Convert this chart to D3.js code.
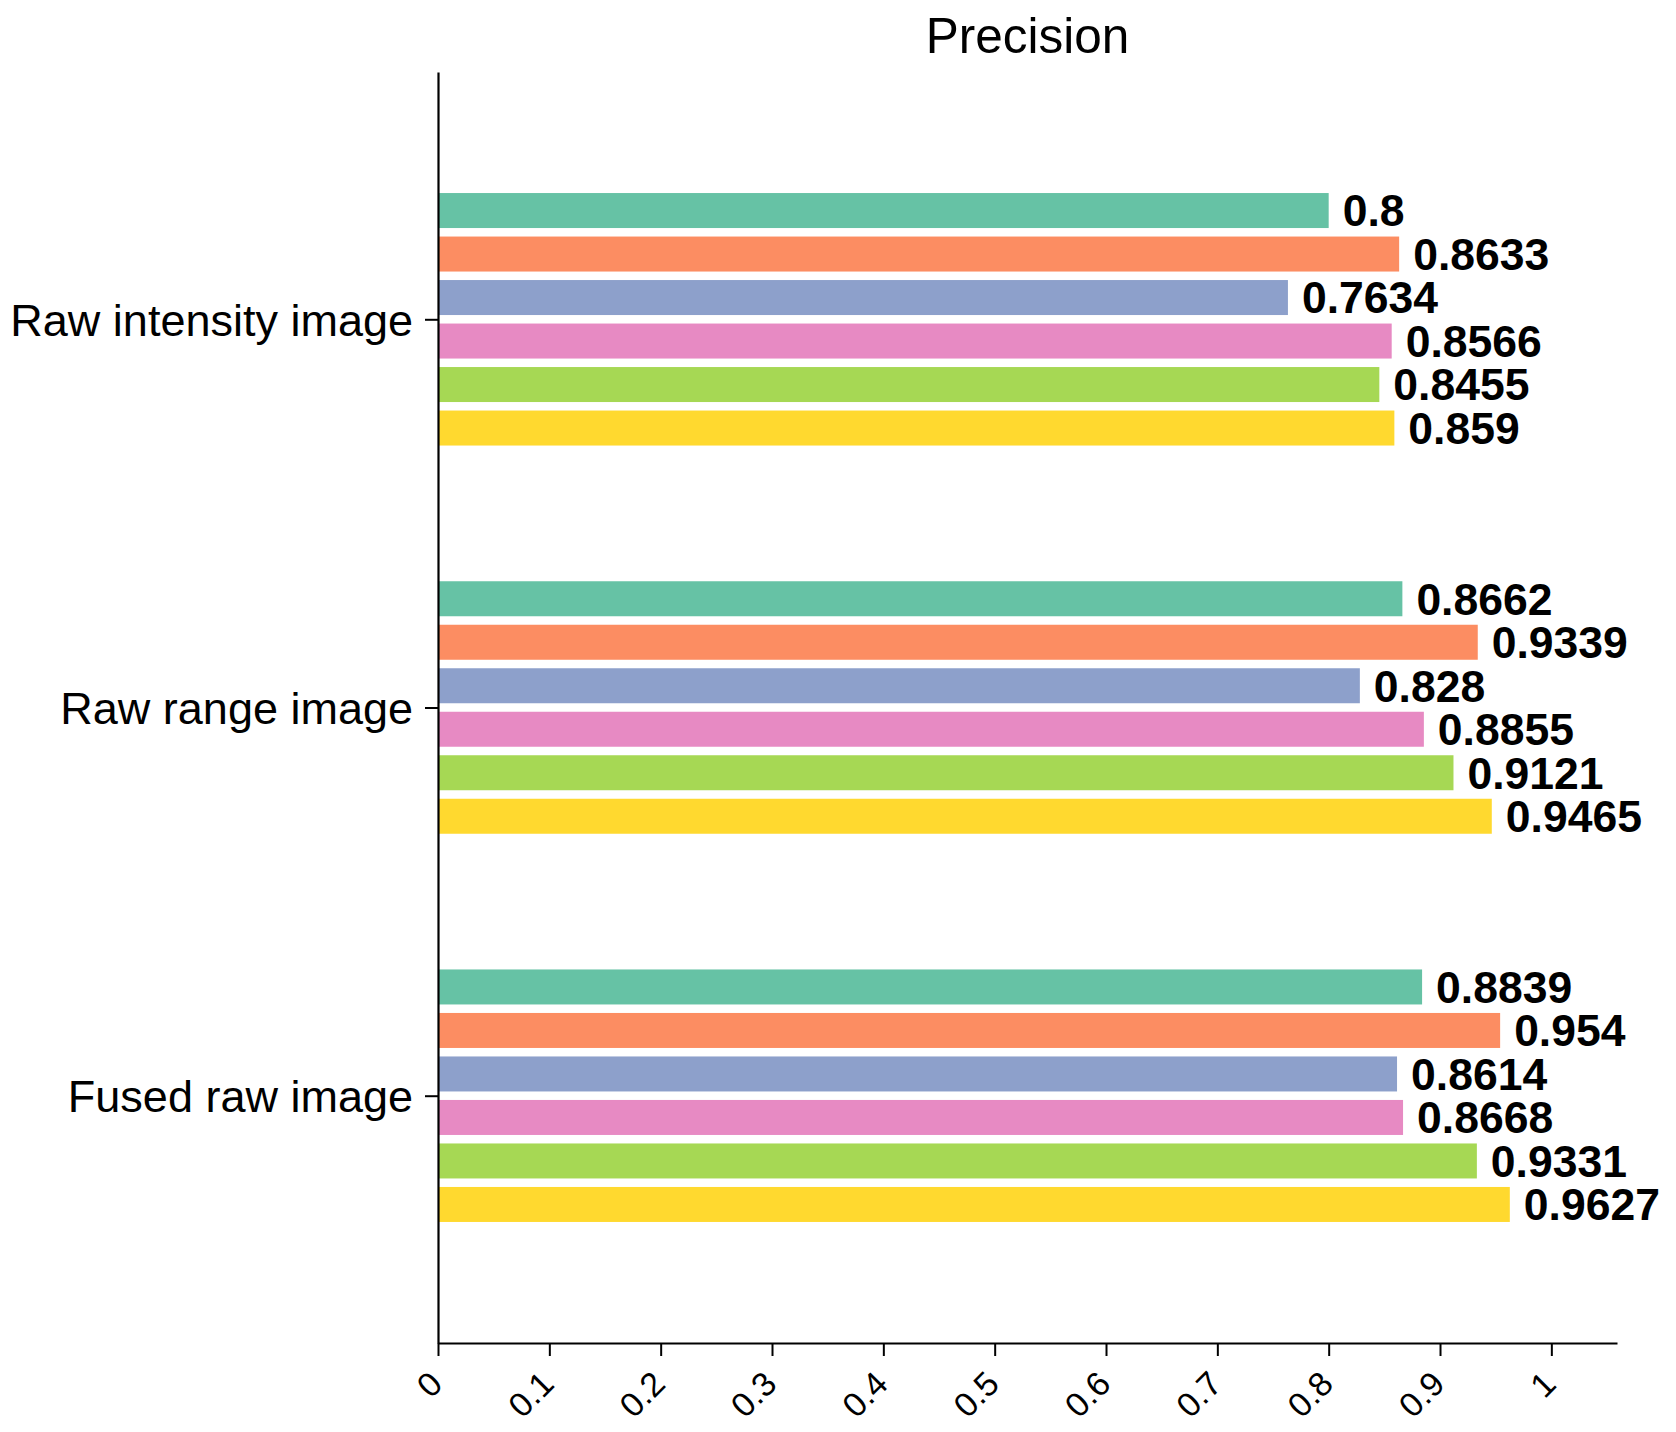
<!DOCTYPE html>
<html>
<head>
<meta charset="utf-8">
<script src="https://cdn.jsdelivr.net/npm/d3@7"></script>
<style>
  html, body { margin: 0; padding: 0; background: #fff; }
  svg { display: block; }
  text { font-family: "Liberation Sans", Arial, Helvetica, sans-serif; fill: #000; }
</style>
</head>
<body>
<svg id="chart" width="1676" height="1432"></svg>
<script>
// ---- Data ----
const categories = ["Raw intensity image", "Raw range image", "Fused raw image"];
const seriesNames = ["S1", "S2", "S3", "S4", "S5", "S6"];
const rawIntensity = [0.8, 0.8633, 0.7634, 0.8566, 0.8455, 0.859];
const rawRange = [0.8662, 0.9339, 0.828, 0.8855, 0.9121, 0.9465];
const fusedRaw = [0.8839, 0.954, 0.8614, 0.8668, 0.9331, 0.9627];
const xTickValues = [0, 0.1, 0.2, 0.3, 0.4, 0.5, 0.6, 0.7, 0.8, 0.9, 1];
const colors = ["#66c2a5", "#fc8d62", "#8da0cb", "#e78ac3", "#a6d854", "#ffd92f"];
const titleText = "Precision";

const values = [rawIntensity, rawRange, fusedRaw];
const rows = [];
categories.forEach((c, ci) => {
  seriesNames.forEach((s, si) => rows.push({ cat: c, series: s, value: values[ci][si] }));
});

// ---- Layout ----
const svg = d3.select("#chart");
const plot = { left: 438, right: 1617, top: 70, bottom: 1343 };
const maxVal = d3.max(rows, d => d.value);

const x = d3.scaleLinear().domain([0, maxVal * 1.1]).range([plot.left, plot.right]);
const y = d3.scalePoint().domain(categories).range([plot.top + 2, plot.bottom]).padding(0.637);
const inner = d3.scaleBand().domain(seriesNames).range([-126.25, 126.25]).paddingInner(8.5 / 43.5).paddingOuter(0);
const color = d3.scaleOrdinal().domain(seriesNames).range(colors);

// ---- Bars ----
svg.append("g").selectAll("rect").data(rows).join("rect")
  .attr("x", x(0))
  .attr("y", d => y(d.cat) + inner(d.series))
  .attr("width", d => x(d.value) - x(0))
  .attr("height", inner.bandwidth())
  .attr("fill", d => color(d.series));

// ---- Value labels ----
svg.append("g").selectAll("text").data(rows).join("text")
  .attr("x", d => x(d.value) + 14)
  .attr("y", d => y(d.cat) + inner(d.series) + inner.bandwidth() / 2)
  .attr("dy", "0.355em")
  .style("font-size", "44.5px")
  .style("font-weight", "bold")
  .text(d => String(d.value));

// ---- X axis ----
const xAxis = d3.axisBottom(x).tickValues(xTickValues).tickSize(13).tickSizeOuter(0)
  .tickFormat(d => String(+d.toFixed(1)));
const gx = svg.append("g").attr("transform", `translate(0,${plot.bottom})`).call(xAxis);
gx.select(".domain").attr("stroke", "#000").attr("stroke-width", 2.2);
gx.selectAll(".tick line").attr("stroke", "#000").attr("stroke-width", 2);
gx.selectAll(".tick text")
  .attr("y", 0).attr("dy", 0)
  .attr("transform", "translate(6,43) rotate(-45)")
  .attr("text-anchor", "end")
  .style("font-size", "34px");

// ---- Y axis ----
const yAxis = d3.axisLeft(y).tickSize(13).tickSizeOuter(0).tickPadding(12);
const gy = svg.append("g").attr("transform", `translate(${plot.left},0)`).call(yAxis);
gy.select(".domain").attr("stroke", "#000").attr("stroke-width", 2.2);
gy.selectAll(".tick line").attr("stroke", "#000").attr("stroke-width", 2);
gy.selectAll(".tick text").attr("dy", "0.35em").style("font-size", "45px");

// ---- Title ----
svg.append("text")
  .attr("x", (plot.left + plot.right) / 2)
  .attr("y", 53)
  .attr("text-anchor", "middle")
  .style("font-size", "49.5px")
  .text(titleText);
</script>
</body>
</html>
